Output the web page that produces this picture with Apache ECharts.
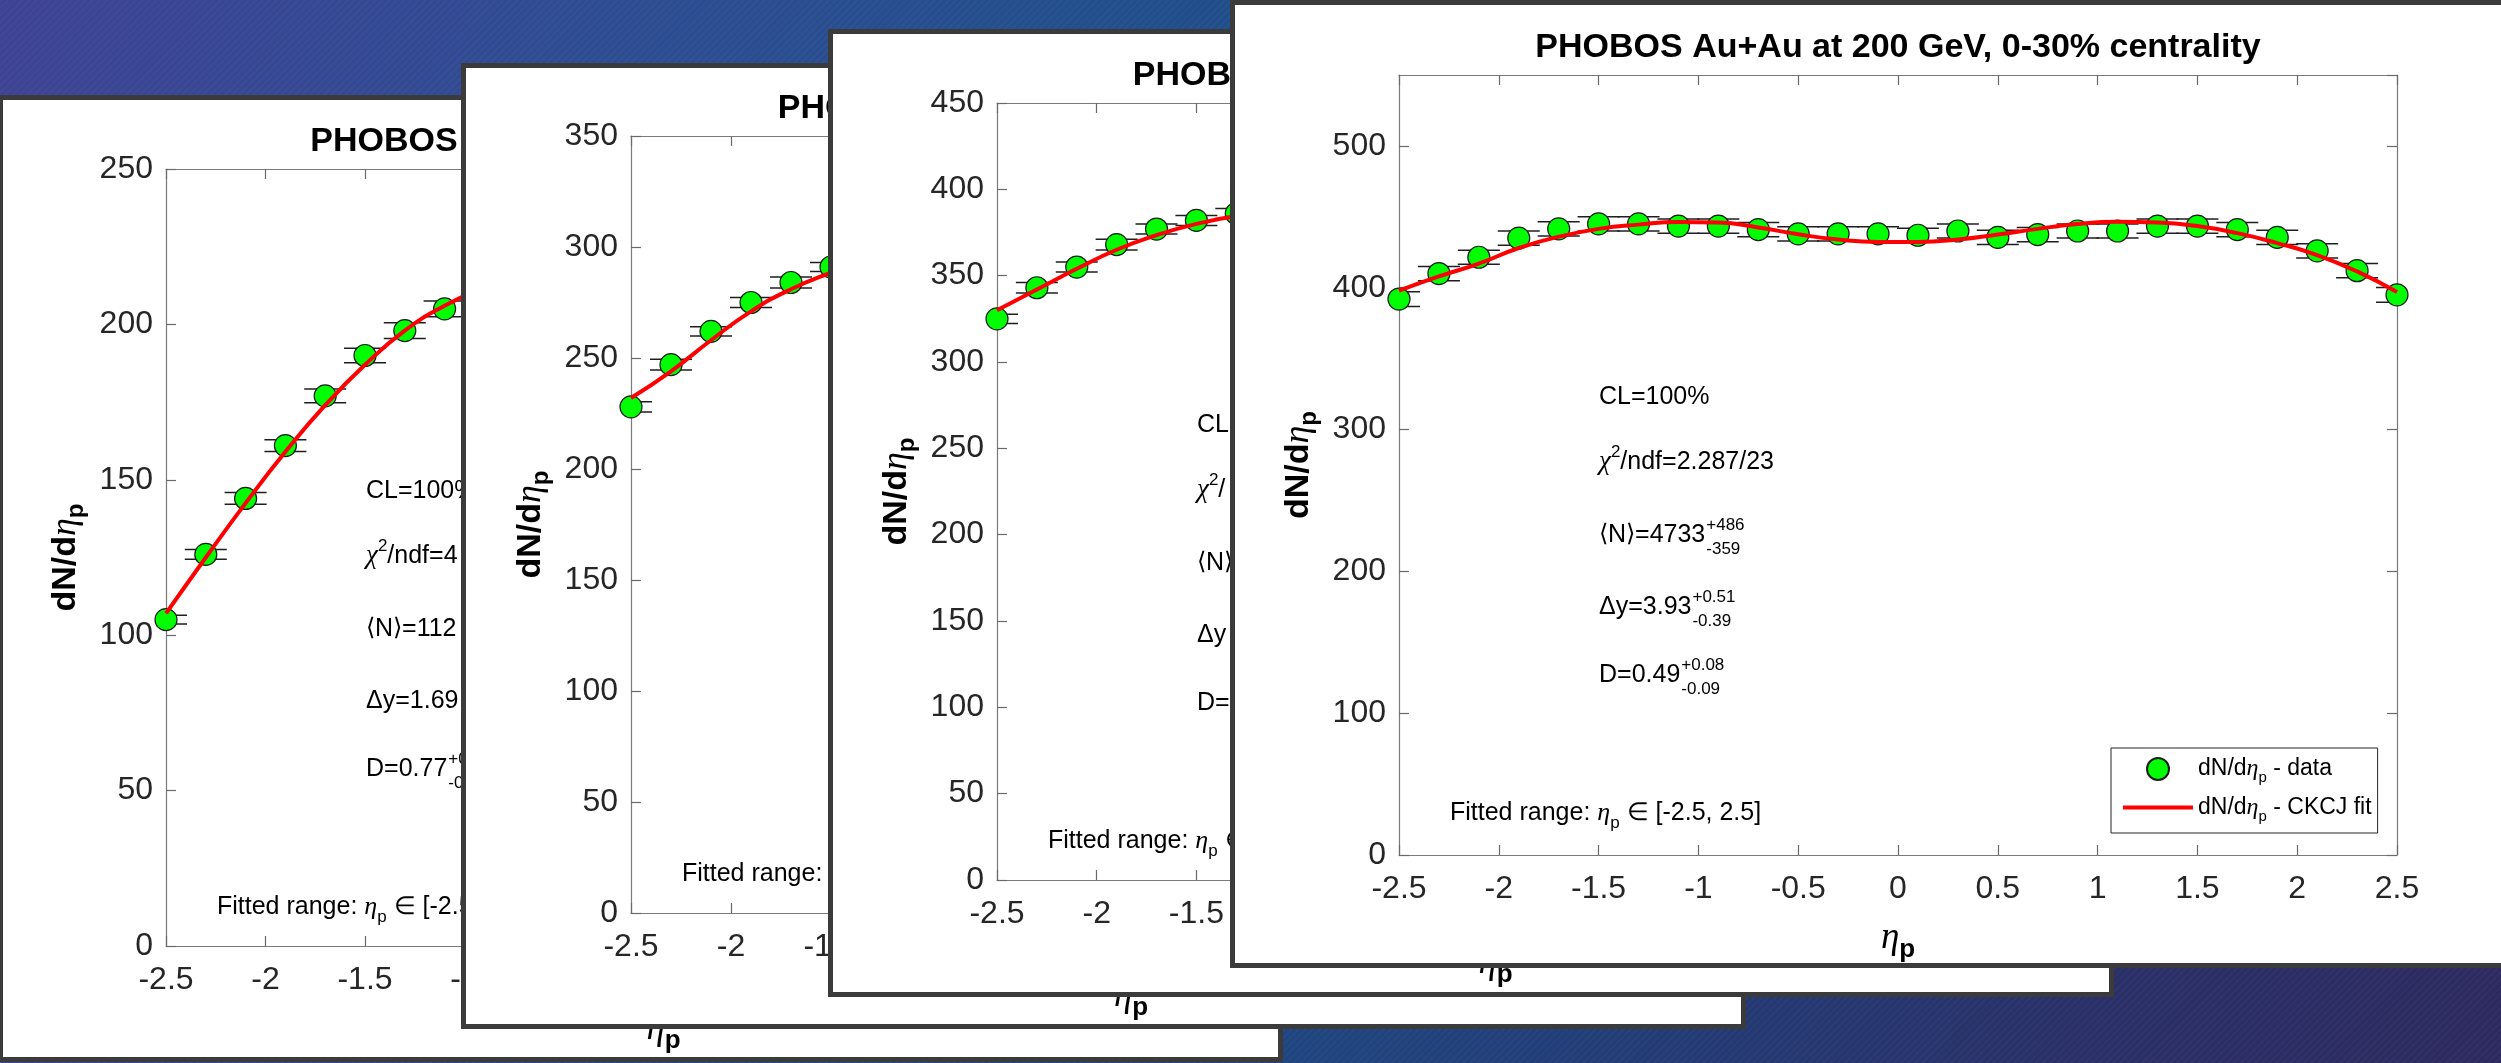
<!DOCTYPE html>
<html>
<head>
<meta charset="utf-8">
<title>PHOBOS dN/dη_p – CKCJ fits</title>
<script src="https://cdn.jsdelivr.net/npm/echarts@6/dist/echarts.min.js"></script>
<style>
  html, body { margin:0; padding:0; }
  body {
    width:2501px; height:1063px; overflow:hidden; position:relative;
    background:
      repeating-linear-gradient(135deg, rgba(255,255,255,0.025) 0px, rgba(255,255,255,0.025) 2px, rgba(0,0,0,0) 2px, rgba(0,0,0,0) 5px),
      linear-gradient(110deg, #3e4393 0%, #2f4c93 20%, #214f8b 40%, #1f4782 55%, #243a74 72%, #2a3068 85%, #2d2a5f 100%);
  }
  .panel { position:absolute; box-sizing:border-box; border:5px solid #3b3b3b; background:#fff; }
  .chart { position:absolute; left:0; top:0; width:100%; height:100%; }
</style>
</head>
<body>
<div class="panel" id="panel1" style="left:-2px;top:95px;width:1285px;height:967px"><div class="chart" id="chart1"></div></div>
<div class="panel" id="panel2" style="left:461px;top:63px;width:1285px;height:966px"><div class="chart" id="chart2"></div></div>
<div class="panel" id="panel3" style="left:828px;top:29px;width:1286px;height:968px"><div class="chart" id="chart3"></div></div>
<div class="panel" id="panel4" style="left:1230px;top:0px;width:1289px;height:968px"><div class="chart" id="chart4"></div></div>
<script>
// ===================== DATA =====================
const panelTitles = [
  'PHOBOS Au+Au at 20 GeV, 0-30% centrality',
  'PHOBOS Au+Au at 62 GeV, 0-30% centrality',
  'PHOBOS Au+Au at 130 GeV, 0-30% centrality',
  'PHOBOS Au+Au at 200 GeV, 0-30% centrality'
];
const yMaxes    = [250, 350, 450, 550];
const yInterval = [50, 50, 50, 100];

// Panel 1 (visible part only)
const p1Eta    = [-2.5, -2.3, -2.1, -1.9, -1.7, -1.5, -1.3, -1.1];
const p1Val    = [105, 126, 144, 161, 177, 190, 198, 205];
const p1Err    = [1.4, 1.6, 1.9, 1.9, 2.2, 2.3, 2.5, 2.5];
const p1FitEta = [-2.5, -2.3, -2.1, -1.9, -1.7, -1.5, -1.3, -1.1, -0.9];
const p1Fit    = [107, 125, 142.5, 159, 174, 187, 198, 206, 212];

// Panel 2 (visible part only)
const p2Eta    = [-2.5, -2.3, -2.1, -1.9, -1.7, -1.5];
const p2Val    = [228, 247, 262, 275, 284, 291];
const p2Err    = [2.3, 2.4, 2.1, 2.3, 2.5, 2.0];
const p2FitEta = [-2.5, -2.3, -2.1, -1.9, -1.7, -1.5, -1.3];
const p2Fit    = [232, 244, 258, 271, 281, 288.5, 295];

// Panel 3 (visible part only)
const p3Eta    = [-2.5, -2.3, -2.1, -1.9, -1.7, -1.5, -1.3];
const p3Val    = [325, 343, 355, 368, 377, 382, 386];
const p3Err    = [2.7, 3.1, 2.9, 3.1, 2.9, 2.9, 2.9];
const p3FitEta = [-2.5, -2.3, -2.1, -1.9, -1.7, -1.5, -1.3];
const p3Fit    = [330, 342, 354, 365, 373.5, 380, 384.5];

// Panel 4 (full)
const p4Eta    = [-2.5, -2.3, -2.1, -1.9, -1.7, -1.5, -1.3, -1.1, -0.9, -0.7, -0.5, -0.3, -0.1,
                  0.1, 0.3, 0.5, 0.7, 0.9, 1.1, 1.3, 1.5, 1.7, 1.9, 2.1, 2.3, 2.5];
const p4Val    = [392, 410, 421.5, 435, 441.5, 445, 445, 443.5, 443.5, 441, 438, 438, 438,
                  437, 440, 435.5, 437.5, 440, 440, 443.5, 443.5, 441, 435.5, 426, 412, 395];
const p4Err    = [5.2, 5, 5, 5, 5, 5, 5, 5, 5, 5, 5, 5, 5,
                  5, 5, 5, 5, 5, 5, 5, 5, 5, 5, 5, 5, 5.2];
const p4FitEta = [-2.5, -2.3, -2.1, -1.9, -1.7, -1.5, -1.3, -1.1, -0.9, -0.7, -0.5, -0.3, -0.1,
                  0.1, 0.3, 0.5, 0.7, 0.9, 1.1, 1.3, 1.5, 1.7, 1.9, 2.1, 2.3, 2.5];
const p4Fit    = [398, 408, 417, 428, 436, 441.5, 444.5, 446.3, 446, 442.5, 437.7, 434, 432.3,
                  432.3, 434, 437.5, 441.5, 445, 446.5, 446, 443.5, 438.5, 431.5, 423, 411.5, 397];

// Fit statistics text (visible parts)
const p1Stats = [
  {text: 'CL=100%'},
  {text: '{c|χ}{u|2}{t|/ndf=4}'},
  {text: '{a|⟨}{t|N}{a|⟩}{t|=112}'},
  {text: 'Δy=1.69'},
  {text: 'D=0.77', sup: '+0', sub: '-0'}
];
const p2Stats = [];
const p3Stats = [
  {text: 'CL'},
  {text: '{c|χ}{u|2}{t|/}'},
  {text: '{a|⟨}{t|N}{a|⟩}'},
  {text: 'Δy'},
  {text: 'D='}
];
const p4Stats = [
  {text: 'CL=100%'},
  {text: '{c|χ}{u|2}{t|/ndf=2.287/23}'},
  {text: '{a|⟨}{t|N}{a|⟩}{t|=4733}', sup: '+486', sub: '-359'},
  {text: 'Δy=3.93', sup: '+0.51', sub: '-0.39'},
  {text: 'D=0.49', sup: '+0.08', sub: '-0.09'}
];
const fittedRangeText = '{t|Fitted range: }{e|η}{s|p}{t| ∈ [-2.5, 2.5]}';
const dataName = 'dN/dηp - data';
const fitName  = 'dN/dηp - CKCJ fit';
const legendLabels = {};
legendLabels[dataName] = '{t|dN/d}{e|η}{s|p}{t| - data}';
legendLabels[fitName]  = '{t|dN/d}{e|η}{s|p}{t| - CKCJ fit}';

// ===================== LAYOUT / STYLE =====================
const FONT  = '"Liberation Sans", Arial, Helvetica, sans-serif';
const SERIF = '"Liberation Serif", "Times New Roman", "DejaVu Serif", serif';
const TXT   = '#262626';
const grids = [
  {left: 163, top: 69, width: 995, height: 777},
  {left: 165, top: 68, width: 1000, height: 777},
  {left: 164, top: 69, width: 997, height: 777},
  {left: 164, top: 70, width: 998, height: 780}
];
const STAT_X = 200;
const STAT_Y = [322, 387, 460, 532, 600];
const FIT_X = 51, FIT_Y = 738;

const statRich = {
  t: {fontSize: 25, fontFamily: FONT, color: '#000'},
  a: {fontSize: 24, fontFamily: '"DejaVu Sans"', fontWeight: 'lighter', color: '#000'},
  c: {fontSize: 27, fontFamily: SERIF, fontStyle: 'italic', color: '#000'},
  u: {fontSize: 17, fontFamily: FONT, color: '#000', padding: [0, 0, 20, 0]},
  e: {fontSize: 26, fontFamily: SERIF, fontStyle: 'italic', color: '#000'},
  s: {fontSize: 17, fontFamily: FONT, color: '#000', padding: [20, 0, 0, 0]}
};

const mctx = document.createElement('canvas').getContext('2d');
function fontOf(st) {
  return (st.fontStyle || 'normal') + ' ' + (st.fontWeight || 'normal') + ' ' + st.fontSize + 'px ' + st.fontFamily;
}
function measureRich(str) {
  // width of a rich string, token by token
  let w = 0, last = 0, m;
  const re = /\{(\w+)\|([^}]*)\}/g;
  while ((m = re.exec(str)) !== null) {
    if (m.index > last) { mctx.font = fontOf(statRich.t); w += mctx.measureText(str.slice(last, m.index)).width; }
    mctx.font = fontOf(statRich[m[1]]); w += mctx.measureText(m[2]).width;
    last = re.lastIndex;
  }
  if (last < str.length) { mctx.font = fontOf(statRich.t); w += mctx.measureText(str.slice(last)).width; }
  return w;
}

function statElements(g, stats) {
  const els = [];
  stats.forEach((s, i) => {
    const x = g.left + STAT_X, y = g.top + STAT_Y[i];
    els.push({type: 'text', x: x, y: y, z: 50, silent: true,
      style: {text: s.text, rich: statRich, fontSize: 25, fontFamily: FONT, fill: '#000',
              align: 'left', verticalAlign: 'middle', textAlign: 'left', textVerticalAlign: 'middle'}});
    if (s.sup) {
      const w = measureRich(s.text);
      els.push({type: 'text', x: x + w + 1, y: y - 10, z: 50, silent: true,
        style: {text: s.sup, fontSize: 17, fontFamily: FONT, fill: '#000', align: 'left', verticalAlign: 'middle', textAlign: 'left', textVerticalAlign: 'middle'}});
      els.push({type: 'text', x: x + w + 1, y: y + 14, z: 50, silent: true,
        style: {text: s.sub, fontSize: 17, fontFamily: FONT, fill: '#000', align: 'left', verticalAlign: 'middle', textAlign: 'left', textVerticalAlign: 'middle'}});
    }
  });
  els.push({type: 'text', x: g.left + FIT_X, y: g.top + FIT_Y, z: 50, silent: true,
    style: {text: fittedRangeText, rich: statRich, fontSize: 25, fontFamily: FONT, fill: '#000',
            align: 'left', verticalAlign: 'middle', textAlign: 'left', textVerticalAlign: 'middle'}});
  return els;
}

function errRender(params, api) {
  const x = api.value(0), y = api.value(1), e = api.value(2);
  const lo = api.coord([x, y - e]);
  const hi = api.coord([x, y + e]);
  const cw = 21;
  const st = {stroke: '#1e1e1e', lineWidth: 1.5, fill: null};
  return {type: 'group', children: [
    {type: 'line', shape: {x1: lo[0], y1: lo[1], x2: hi[0], y2: hi[1]}, style: st},
    {type: 'line', shape: {x1: lo[0] - cw, y1: lo[1], x2: lo[0] + cw, y2: lo[1]}, style: st},
    {type: 'line', shape: {x1: hi[0] - cw, y1: hi[1], x2: hi[0] + cw, y2: hi[1]}, style: st}
  ]};
}

function makeOption(idx, eta, val, err, fitEta, fit, stats, withLegend) {
  const g = grids[idx];
  const yMax = yMaxes[idx], yInt = yInterval[idx];
  const lineSt = {color: '#7a7a7a', width: 1.2};
  const tick = {show: true, inside: true, length: 10, lineStyle: {color: '#6a6a6a', width: 1.2}};
  const lab = {color: TXT, fontSize: 32, fontFamily: FONT};
  const opt = {
    animation: false,
    backgroundColor: '#ffffff',
    title: {
      text: panelTitles[idx], left: g.left + g.width / 2, top: g.top - 44, padding: 0,
      textAlign: 'center',
      textStyle: {fontSize: 34, fontWeight: 'bold', color: '#000', fontFamily: FONT}
    },
    grid: {left: g.left, top: g.top, width: g.width, height: g.height, containLabel: false, outerBoundsMode: 'none'},
    xAxis: [
      {type: 'value', position: 'bottom', min: -2.5, max: 2.5, interval: 0.5,
       axisLine: {show: true, onZero: false, lineStyle: lineSt}, axisTick: tick,
       axisLabel: Object.assign({margin: 18}, lab), splitLine: {show: false},
       name: '{e|η}{s|p}', nameLocation: 'middle', nameGap: 58,
       nameTextStyle: {rich: {
         e: {fontSize: 37, fontFamily: SERIF, fontStyle: 'italic', color: '#000'},
         s: {fontSize: 26, fontFamily: FONT, fontWeight: 'bold', color: '#000', padding: [24, 0, 0, 0]}
       }}},
      {type: 'value', position: 'top', min: -2.5, max: 2.5, interval: 0.5,
       axisLine: {show: true, onZero: false, lineStyle: lineSt}, axisTick: tick,
       axisLabel: {show: false}, splitLine: {show: false}}
    ],
    yAxis: [
      {type: 'value', position: 'left', min: 0, max: yMax, interval: yInt,
       axisLine: {show: true, onZero: false, lineStyle: lineSt}, axisTick: tick,
       axisLabel: Object.assign({margin: 13, showMaxLabel: yMax % yInt === 0}, lab),
       splitLine: {show: false},
       name: '{b|dN/d}{e|η}{s|p}', nameLocation: 'middle', nameRotate: 90, nameGap: 76,
       nameTextStyle: {rich: {
         b: {fontSize: 34, fontFamily: FONT, fontWeight: 'bold', color: '#000'},
         e: {fontSize: 36, fontFamily: SERIF, fontStyle: 'italic', color: '#000'},
         s: {fontSize: 24, fontFamily: FONT, fontWeight: 'bold', color: '#000', padding: [22, 0, 0, 0]}
       }}},
      {type: 'value', position: 'right', min: 0, max: yMax, interval: yInt,
       axisLine: {show: true, onZero: false, lineStyle: lineSt}, axisTick: tick,
       axisLabel: {show: false}, splitLine: {show: false}}
    ],
    series: [
      {type: 'custom', name: 'err', xAxisIndex: 0, yAxisIndex: 0, z: 2, clip: true,
       renderItem: errRender, encode: {x: 0, y: 1},
       data: eta.map((x, k) => [x, val[k], err[k]])},
      {type: 'scatter', name: dataName, xAxisIndex: 0, yAxisIndex: 0, z: 3,
       symbol: 'circle', symbolSize: 22,
       itemStyle: {color: '#00ff00', borderColor: '#1a1a1a', borderWidth: 1.2, opacity: 1},
       data: eta.map((x, k) => [x, val[k]])},
      {type: 'line', name: fitName, xAxisIndex: 0, yAxisIndex: 0, z: 4,
       color: '#ff0000', symbol: 'none', showSymbol: false, smooth: 0.5,
       lineStyle: {color: '#ff0000', width: 4},
       data: fitEta.map((x, k) => [x, fit[k]])}
    ],
    graphic: statElements(g, stats)
  };
  if (withLegend) {
    opt.legend = {
      show: true, orient: 'vertical', left: 876, top: 743,
      padding: [9, 6, 9, 12], itemWidth: 70, itemHeight: 22, itemGap: 10,
      backgroundColor: '#ffffff', borderColor: '#262626', borderWidth: 1, borderRadius: 0,
      selectedMode: false, symbolKeepAspect: true,
      data: [{name: dataName, icon: 'circle'}, {name: fitName, icon: 'path://M0,0 L70,0 L70,4 L0,4 Z'}],
      formatter: n => legendLabels[n],
      textStyle: {fontSize: 23, fontFamily: FONT, color: '#000', rich: {
        t: {fontSize: 23, fontFamily: FONT, color: '#000'},
        e: {fontSize: 24, fontFamily: SERIF, fontStyle: 'italic', color: '#000'},
        s: {fontSize: 15, fontFamily: FONT, color: '#000', padding: [18, 0, 0, 0]}
      }}
    };
  }
  return opt;
}

const specs = [
  ['chart1', 0, p1Eta, p1Val, p1Err, p1FitEta, p1Fit, p1Stats, false],
  ['chart2', 1, p2Eta, p2Val, p2Err, p2FitEta, p2Fit, p2Stats, false],
  ['chart3', 2, p3Eta, p3Val, p3Err, p3FitEta, p3Fit, p3Stats, false],
  ['chart4', 3, p4Eta, p4Val, p4Err, p4FitEta, p4Fit, p4Stats, true]
];
specs.forEach(s => {
  const el = document.getElementById(s[0]);
  const chart = echarts.init(el, null, {renderer: 'canvas'});
  chart.setOption(makeOption(s[1], s[2], s[3], s[4], s[5], s[6], s[7], s[8]));
});
</script>
</body>
</html>
